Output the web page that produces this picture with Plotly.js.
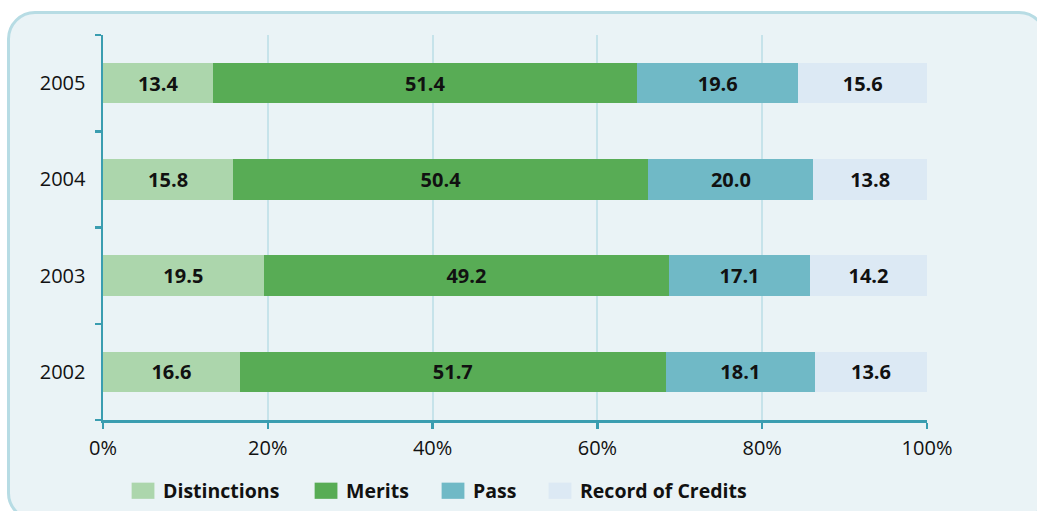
<!DOCTYPE html>
<html>
<head>
<meta charset="utf-8">
<script src="https://cdn.plot.ly/plotly-3.0.1.min.js"></script>
<style>
  html, body { margin: 0; padding: 0; background: #ffffff; overflow: hidden; }
  #frame {
    position: absolute; left: 7px; top: 11px; width: 1040px; height: 510px;
    box-sizing: border-box; border: 3px solid #b7dce4; border-radius: 28px;
    background: #eaf3f6;
  }
  #chart { position: absolute; left: 0; top: 0; width: 1037px; height: 511px; }
  .legendpoints path { transform: translate(20px, 0) scale(1.9, 1.35); }
  .infolayer .scrollbox { clip-path: none !important; }
</style>
</head>
<body>
<div id="frame"></div>
<div id="chart"></div>
<script>
const years = ['2002', '2003', '2004', '2005'];
const distinctions = [16.6, 19.5, 15.8, 13.4];
const merits = [51.7, 49.2, 50.4, 51.4];
const pass = [18.1, 17.1, 20.0, 19.6];
const recordOfCredits = [13.6, 14.2, 13.8, 15.6];
const xTicks = [0, 20, 40, 60, 80, 100];

const series = [
    {name: 'Distinctions', values: distinctions, color: '#acd6ac', legend: 'legend', lx: 0.0243},
    {name: 'Merits', values: merits, color: '#58ac55', legend: 'legend2', lx: 0.2464},
    {name: 'Pass', values: pass, color: '#70b9c6', legend: 'legend3', lx: 0.4005},
    {name: 'Record of Credits', values: recordOfCredits, color: '#dce9f4', legend: 'legend4', lx: 0.5303}
];

const data = series.map(s => ({
    type: 'bar',
    orientation: 'h',
    name: s.name,
    legend: s.legend,
    y: years,
    x: s.values,
    marker: {color: s.color, line: {width: 0}},
    texttemplate: '%{x:.1f}',
    textposition: 'inside',
    insidetextanchor: 'middle',
    textangle: 0,
    textfont: {family: 'Open Sans', size: 20, color: '#111111', weight: 'bold'},
    hoverinfo: 'skip'
}));

const axisColor = '#3a9db0';

const layout = {
    width: 1037,
    height: 511,
    barmode: 'stack',
    bargap: 0.58,
    margin: {l: 103, r: 110, t: 35, b: 91},
    paper_bgcolor: 'rgba(0,0,0,0)',
    plot_bgcolor: 'rgba(0,0,0,0)',
    font: {family: 'Open Sans', size: 20, color: '#111111'},
    xaxis: {
        range: [0, 100],
        tickvals: xTicks,
        ticktext: xTicks.map(v => v + '%'),
        showgrid: true,
        gridcolor: '#c6e3ea',
        gridwidth: 2,
        zeroline: false,
        showline: true,
        linecolor: axisColor,
        linewidth: 2.5,
        ticks: 'outside',
        ticklen: 6,
        tickwidth: 2.5,
        tickcolor: axisColor,
        ticklabelstandoff: 2,
        automargin: false,
        fixedrange: true
    },
    yaxis: {
        type: 'category',
        categoryorder: 'array',
        categoryarray: years,
        range: [-0.5, 3.5],
        showgrid: false,
        zeroline: false,
        showline: true,
        linecolor: axisColor,
        linewidth: 2.5,
        ticks: 'outside',
        tickson: 'boundaries',
        ticklen: 6,
        tickwidth: 2.5,
        tickcolor: axisColor,
        ticklabelstandoff: 11,
        automargin: false,
        fixedrange: true
    },
    showlegend: true
};

// one legend per series so each entry sits where the original puts it
series.forEach(s => {
    layout[s.legend] = {
        orientation: 'h',
        x: s.lx,
        xanchor: 'left',
        yref: 'container',
        y: 0.039,
        yanchor: 'middle',
        font: {family: 'Open Sans', size: 19.5, color: '#111111', weight: 'bold'},
        bgcolor: 'rgba(0,0,0,0)',
        borderwidth: 0
    };
});

Plotly.newPlot('chart', data, layout, {displayModeBar: false, staticPlot: true});
</script>
</body>
</html>
